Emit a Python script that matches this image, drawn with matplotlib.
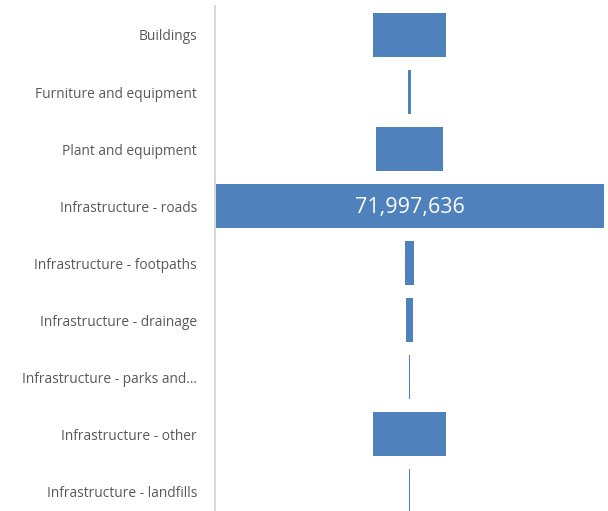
import matplotlib.pyplot as plt

categories = [
    'Buildings',
    'Furniture and equipment',
    'Plant and equipment',
    'Infrastructure - roads',
    'Infrastructure - footpaths',
    'Infrastructure - drainage',
    'Infrastructure - parks and\u2026',
    'Infrastructure - other',
    'Infrastructure - landfills',
]
values = [13550000, 420000, 12250000, 71997636, 1670000, 1480000, 190000, 13360000, 190000]
labelled = 'Infrastructure - roads'

BAR = '#4f81bd'
TEXT = '#595959'

fig = plt.figure(figsize=(6.08, 5.11), dpi=100)
ax = fig.add_axes([215 / 608, 0, 389 / 608, (511 - 6.5) / 511])

pos = list(range(len(categories)))
lefts = [-v / 2 for v in values]
ax.barh(pos, values, left=lefts, height=0.77, color=BAR)

for p, c, v in zip(pos, categories, values):
    if c == labelled:
        ax.text(0, p + 0.03, f'{v:,}', color='white', ha='center', va='center',
                fontsize=15.5, family='Open Sans')

half = max(values) / 2
ax.set_xlim(-half, half)
ax.set_ylim(8 + 20 / 57, -0.5)
ax.set_yticks(pos)
ax.set_yticklabels(categories, color=TEXT, fontsize=9.9, family='Open Sans')
ax.tick_params(axis='y', length=0, pad=13)
ax.set_xticks([])

for s in ['top', 'right', 'bottom']:
    ax.spines[s].set_visible(False)
ax.spines['left'].set_color('#d9d9d9')
ax.spines['left'].set_linewidth(1.5)

fig.savefig('out.png', dpi=100)
